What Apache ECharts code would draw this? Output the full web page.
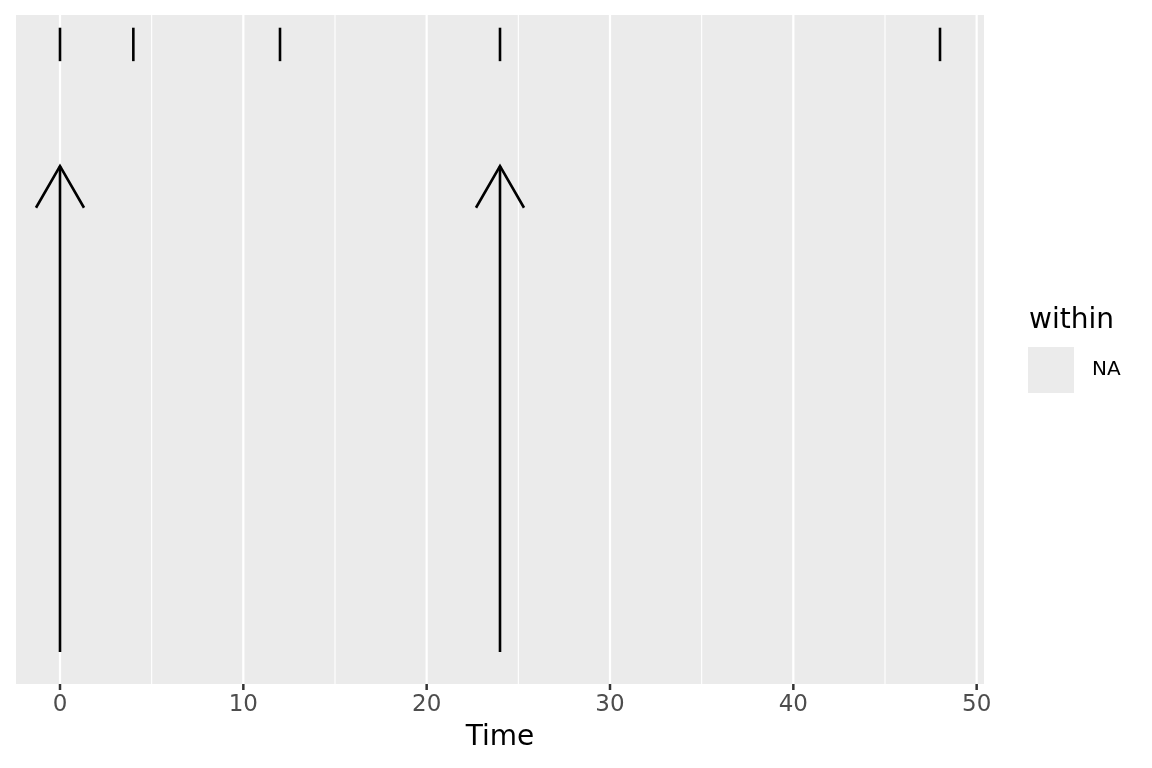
<!DOCTYPE html>
<html><head><meta charset="utf-8">
<script src="https://cdn.jsdelivr.net/npm/echarts@6/dist/echarts.min.js"></script>
<style>html,body{margin:0;padding:0;background:#fff}#c{width:1152px;height:768px}</style>
</head><body><div id="c"></div>
<script>
// ---- data ----
const obsTimes = [0, 4, 12, 24, 48];
const obsLow = 0.931;
const obsHigh = 0.981;
const doseTimes = [0, 24];
const doseLow = 0.048;
const doseHigh = 0.774;
const majorTicks = [0, 10, 20, 30, 40, 50];
const minorTicks = [5, 15, 25, 35, 45];
const xMin = -2.4;
const xMax = 50.4;
const xTitle = 'Time';
const legendTitle = 'within';
const legendLabels = ['NA'];

const FONT = 'DejaVu Sans';
const chart = echarts.init(document.getElementById('c'), null, {renderer: 'canvas'});

function gridLines(width) {
  return function (params, api) {
    const cs = params.coordSys;
    const p = api.coord([api.value(0), 0]);
    return {
      type: 'line',
      shape: {x1: p[0], y1: cs.y, x2: p[0], y2: cs.y + cs.height},
      style: {stroke: '#FFFFFF', lineWidth: width}
    };
  };
}

const option = {
  animation: false,
  backgroundColor: '#FFFFFF',
  grid: {left: 16, right: 168, top: 15, bottom: 84, show: true,
         backgroundColor: '#EBEBEB', borderWidth: 0, containLabel: false},
  xAxis: {
    type: 'value', min: xMin, max: xMax,
    name: xTitle, nameLocation: 'middle', nameGap: 40,
    nameTextStyle: {fontFamily: FONT, fontSize: 28, color: '#000000'},
    axisLine: {show: false},
    axisTick: {show: false},
    axisLabel: {customValues: majorTicks, margin: 10,
                fontFamily: FONT, fontSize: 23, color: '#4D4D4D'},
    splitLine: {show: false}
  },
  yAxis: {
    type: 'value', min: 0, max: 1,
    axisLine: {show: false}, axisTick: {show: false},
    axisLabel: {show: false}, splitLine: {show: false}
  },
  legend: {
    show: true, data: legendLabels, left: 1028, top: 347, orient: 'vertical',
    icon: 'rect', itemWidth: 46, itemHeight: 46, padding: 0,
    textStyle: {fontFamily: FONT, fontSize: 20, color: '#000000', padding: [0, 0, 0, 13]}
  },
  graphic: [{
    id: 'legendTitle', type: 'text', left: 1029, top: 307,
    style: {text: legendTitle, fontFamily: FONT, fontSize: 28, fill: '#000000'}
  }],
  series: [
    {type: 'custom', name: 'minor', silent: true, z: 1,
     renderItem: gridLines(1.1), data: minorTicks.map(v => [v])},
    {type: 'custom', name: 'major', silent: true, z: 1,
     renderItem: gridLines(2.2), data: majorTicks.map(v => [v])},
    {type: 'scatter', name: legendLabels[0], data: [],
     itemStyle: {color: '#EBEBEB', opacity: 1}},
    {type: 'custom', name: 'obs', z: 3,
     data: obsTimes.map(t => [t, obsLow, obsHigh]),
     renderItem: function (params, api) {
       const a = api.coord([api.value(0), api.value(1)]);
       const b = api.coord([api.value(0), api.value(2)]);
       return {type: 'line', shape: {x1: a[0], y1: a[1], x2: b[0], y2: b[1]},
               style: {stroke: '#000000', lineWidth: 2.6}};
     }},
    {type: 'custom', name: 'dose', z: 3,
     data: doseTimes.map(t => [t, doseLow, doseHigh]),
     renderItem: function (params, api) {
       const a = api.coord([api.value(0), api.value(1)]);
       const b = api.coord([api.value(0), api.value(2)]);
       const L = 48, ang = Math.PI / 6;
       const dx = L * Math.sin(ang), dy = L * Math.cos(ang);
       return {type: 'group', children: [
         {type: 'line', shape: {x1: a[0], y1: a[1], x2: b[0], y2: b[1]},
          style: {stroke: '#000000', lineWidth: 2.6}},
         {type: 'polyline', shape: {points: [[b[0] - dx, b[1] + dy], [b[0], b[1]], [b[0] + dx, b[1] + dy]]},
          style: {stroke: '#000000', lineWidth: 2.6, fill: null, lineJoin: 'miter'}}
       ]};
     }}
  ]
};
chart.setOption(option);

// axis tick marks below the panel, placed through the axis scale
const yBottom = chart.convertToPixel({yAxisIndex: 0}, 0);
chart.setOption({
  graphic: majorTicks.map((v, i) => {
    const x = chart.convertToPixel({xAxisIndex: 0}, v);
    return {
      id: 'tick' + i, type: 'line', z: 10,
      shape: {x1: x, y1: yBottom, x2: x, y2: yBottom + 6},
      style: {stroke: '#333333', lineWidth: 2.5}
    };
  })
});
</script>
</body></html>
